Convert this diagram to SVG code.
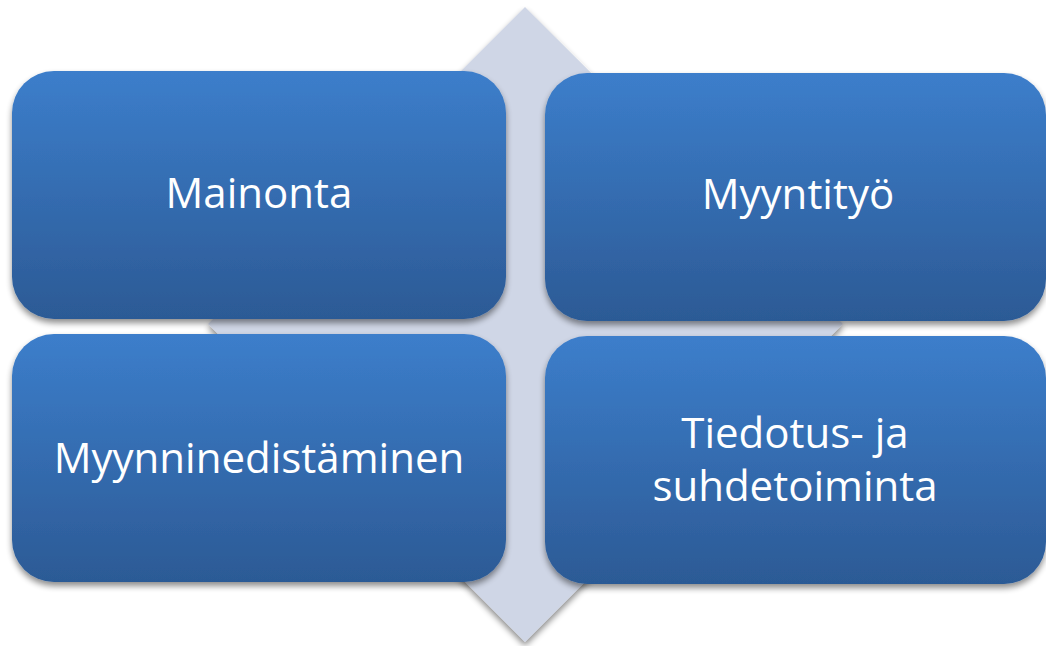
<svg xmlns="http://www.w3.org/2000/svg" width="1046" height="646" viewBox="0 0 1046 646">
  <defs>
    <linearGradient id="boxGrad" x1="0" y1="0" x2="0" y2="1">
      <stop offset="0" stop-color="#3C7ECB"/>
      <stop offset="1" stop-color="#2C5A95"/>
    </linearGradient>
    <filter id="shadow" x="-10%" y="-10%" width="120%" height="125%">
      <feGaussianBlur in="SourceAlpha" stdDeviation="3"/>
      <feOffset dx="0" dy="4" result="b"/>
      <feComponentTransfer><feFuncA type="linear" slope="0.45"/></feComponentTransfer>
      <feMerge><feMergeNode/><feMergeNode in="SourceGraphic"/></feMerge>
    </filter>
  </defs>
  <style>
    .box { fill: url(#boxGrad); filter: url(#shadow); }
    .lbl { fill: #FFFFFF; font-family: "Open Sans", "Liberation Sans", sans-serif; font-size: 42px; text-anchor: middle; }
  </style>
  <rect width="1046" height="646" fill="#FFFFFF"/>
  <g id="diamond">
    <polygon points="525,7 843,324 525,642 208,324" fill="#CFD6E6" filter="url(#shadow)"/>
  </g>
  <g id="connectors"></g>
  <g id="node-mainonta">
    <rect class="box" x="12" y="71" width="494" height="248" rx="42" ry="42"/>
    <text class="lbl" x="259" y="208">Mainonta</text>
  </g>
  <g id="node-myyntityo">
    <rect class="box" x="545" y="73" width="501" height="248" rx="42" ry="42"/>
    <text class="lbl" x="798" y="209">Myyntityö</text>
  </g>
  <g id="node-myynninedistaminen">
    <rect class="box" x="12" y="334" width="494" height="248" rx="42" ry="42"/>
    <text class="lbl" x="259" y="473">Myynninedistäminen</text>
  </g>
  <g id="node-tiedotus">
    <rect class="box" x="545" y="336" width="501" height="248" rx="42" ry="42"/>
    <text class="lbl" x="795" y="448">Tiedotus- ja</text>
    <text class="lbl" x="795" y="501">suhdetoiminta</text>
  </g>
</svg>
